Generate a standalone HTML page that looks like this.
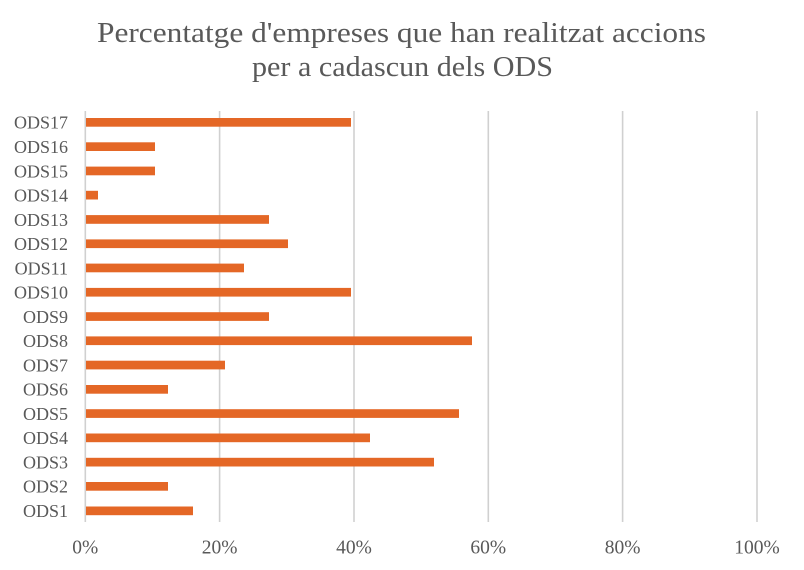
<!DOCTYPE html>
<html><head><meta charset="utf-8"><style>
html,body{margin:0;padding:0;background:#fff;}
svg{display:block;}
text{font-family:"Liberation Serif",serif;fill:#595959;}
</style></head><body>
<svg width="804" height="570" viewBox="0 0 804 570" xmlns="http://www.w3.org/2000/svg">
<rect width="804" height="570" fill="#fff"/>
<text x="401.5" y="42" font-size="28" text-anchor="middle" textLength="609" lengthAdjust="spacingAndGlyphs">Percentatge d'empreses que han realitzat accions</text>
<text x="402.5" y="76" font-size="28" text-anchor="middle" textLength="301" lengthAdjust="spacingAndGlyphs">per a cadascun dels ODS</text>
<g stroke="#d0d0d0" stroke-width="1.6">
<line x1="85.3" y1="111" x2="85.3" y2="522"/>
<line x1="219.6" y1="111" x2="219.6" y2="522"/>
<line x1="354" y1="111" x2="354" y2="522"/>
<line x1="488.3" y1="111" x2="488.3" y2="522"/>
<line x1="622.6" y1="111" x2="622.6" y2="522"/>
<line x1="757" y1="111" x2="757" y2="522"/>
</g>
<g fill="#E46726">
<rect x="86" y="118" width="265" height="8.7"/>
<rect x="86" y="142.3" width="69" height="8.7"/>
<rect x="86" y="166.6" width="69" height="8.7"/>
<rect x="86" y="190.8" width="12" height="8.7"/>
<rect x="86" y="215.1" width="183" height="8.7"/>
<rect x="86" y="239.4" width="202" height="8.7"/>
<rect x="86" y="263.6" width="158" height="8.7"/>
<rect x="86" y="287.9" width="265" height="8.7"/>
<rect x="86" y="312.2" width="183" height="8.7"/>
<rect x="86" y="336.4" width="386" height="8.7"/>
<rect x="86" y="360.7" width="139" height="8.7"/>
<rect x="86" y="385" width="82" height="8.7"/>
<rect x="86" y="409.2" width="373" height="8.7"/>
<rect x="86" y="433.5" width="284" height="8.7"/>
<rect x="86" y="457.8" width="348" height="8.7"/>
<rect x="86" y="482" width="82" height="8.7"/>
<rect x="86" y="506.5" width="107" height="8.7"/>
</g>
<g font-size="18" text-anchor="end">
<text x="68" y="128.7">ODS17</text>
<text x="68" y="153">ODS16</text>
<text x="68" y="177.3">ODS15</text>
<text x="68" y="201.5">ODS14</text>
<text x="68" y="225.8">ODS13</text>
<text x="68" y="250.1">ODS12</text>
<text x="68" y="274.3">ODS11</text>
<text x="68" y="298.6">ODS10</text>
<text x="68" y="322.9">ODS9</text>
<text x="68" y="347.1">ODS8</text>
<text x="68" y="371.4">ODS7</text>
<text x="68" y="395.7">ODS6</text>
<text x="68" y="419.9">ODS5</text>
<text x="68" y="444.2">ODS4</text>
<text x="68" y="468.5">ODS3</text>
<text x="68" y="492.7">ODS2</text>
<text x="68" y="517.2">ODS1</text>
</g>
<g font-size="19.5" text-anchor="middle">
<text x="85.3" y="553.3">0%</text>
<text x="219.6" y="553.3">20%</text>
<text x="354" y="553.3">40%</text>
<text x="488.3" y="553.3">60%</text>
<text x="622.6" y="553.3">80%</text>
<text x="757" y="553.3">100%</text>
</g>
</svg>
</body></html>
